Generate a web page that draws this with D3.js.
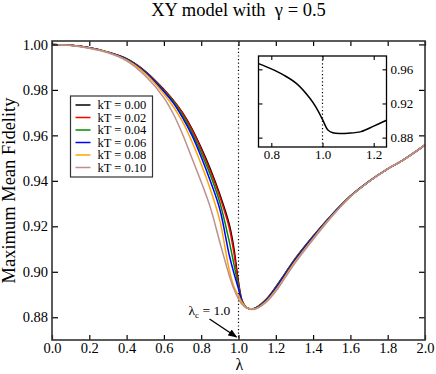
<!DOCTYPE html>
<html lang="en">
<head>
<meta charset="utf-8">
<title>XY model with gamma = 0.5</title>
<script src="https://cdn.jsdelivr.net/npm/d3@7"></script>
<style>
  body { margin: 0; background: #fff; }
</style>
</head>
<body>
<div id="chart"></div>
<script>
// lambda grid shared by all main curves
var lambda = [0, 0.1, 0.2, 0.3, 0.4, 0.5, 0.6, 0.65, 0.7, 0.75, 0.8, 0.85, 0.9, 0.95, 0.975, 1.0,
  1.02, 1.04, 1.07, 1.1, 1.15, 1.2, 1.25, 1.3, 1.4, 1.5, 1.6, 1.7, 1.8, 1.88, 1.95, 2.0];

var kT000 = [1.0000, 0.9996, 0.9985, 0.9966, 0.9937, 0.9882, 0.9802, 0.9755, 0.9700, 0.9630, 0.9545, 0.9450, 0.9340, 0.9210, 0.9105, 0.8955,
  0.8872, 0.8845, 0.8836, 0.8845, 0.8880, 0.8933, 0.8993, 0.9053, 0.9156, 0.9250, 0.9333, 0.9398, 0.9453, 0.9490, 0.9528, 0.9558];
var kT002 = [1.0000, 0.9996, 0.9985, 0.9966, 0.9936, 0.9881, 0.9800, 0.9753, 0.9697, 0.9625, 0.9538, 0.9441, 0.9330, 0.9195, 0.9085, 0.8945,
  0.8870, 0.8844, 0.8836, 0.8845, 0.8879, 0.8932, 0.8992, 0.9052, 0.9156, 0.9250, 0.9333, 0.9398, 0.9453, 0.9490, 0.9528, 0.9558];
var kT004 = [1.0000, 0.9996, 0.9985, 0.9966, 0.9936, 0.9879, 0.9796, 0.9749, 0.9688, 0.9613, 0.9523, 0.9424, 0.9305, 0.9135, 0.9035, 0.8935,
  0.8868, 0.8844, 0.8836, 0.8844, 0.8878, 0.8931, 0.8991, 0.9051, 0.9155, 0.9250, 0.9333, 0.9398, 0.9453, 0.9490, 0.9528, 0.9558];
var kT006 = [1.0000, 0.9996, 0.9985, 0.9965, 0.9935, 0.9877, 0.9792, 0.9743, 0.9678, 0.9601, 0.9505, 0.9397, 0.9275, 0.9075, 0.8995, 0.8925,
  0.8866, 0.8843, 0.8836, 0.8843, 0.8876, 0.8928, 0.8988, 0.9048, 0.9153, 0.9249, 0.9332, 0.9398, 0.9453, 0.9490, 0.9528, 0.9558];
var kT008 = [1.0000, 0.9996, 0.9984, 0.9965, 0.9932, 0.9872, 0.9782, 0.9727, 0.9660, 0.9573, 0.9473, 0.9360, 0.9225, 0.9010, 0.8935, 0.8895,
  0.8864, 0.8845, 0.8837, 0.8841, 0.8871, 0.8920, 0.8980, 0.9041, 0.9147, 0.9245, 0.9331, 0.9397, 0.9453, 0.9490, 0.9528, 0.9558];
var kT010 = [1.0000, 0.9995, 0.9983, 0.9963, 0.9928, 0.9862, 0.9765, 0.9695, 0.9605, 0.9500, 0.9395, 0.9280, 0.9130, 0.8985, 0.8925, 0.8880,
  0.8856, 0.8842, 0.8834, 0.8839, 0.8867, 0.8914, 0.8974, 0.9035, 0.9142, 0.9242, 0.9330, 0.9397, 0.9453, 0.9490, 0.9528, 0.9558];

var seriesLabels = ["kT = 0.00", "kT = 0.02", "kT = 0.04", "kT = 0.06", "kT = 0.08", "kT = 0.10"];
var seriesColors = ["#000000", "#ff0000", "#008c00", "#0000ff", "#ffa500", "#bc8f8f"];

// inset: kT = 0 curve around the critical point
var insetLambda = [0.75, 0.8, 0.85, 0.9, 0.95, 0.975, 1.0, 1.02, 1.04, 1.07, 1.1, 1.15, 1.2, 1.25];
var insetFidelity = [0.9667, 0.9605, 0.9530, 0.9430, 0.9265, 0.9155, 0.9013, 0.8893, 0.8857, 0.8847, 0.8851, 0.8870, 0.8935, 0.9003];

var xTicks = [0, 0.2, 0.4, 0.6, 0.8, 1.0, 1.2, 1.4, 1.6, 1.8, 2.0];
var yTicks = [0.88, 0.90, 0.92, 0.94, 0.96, 0.98, 1.00];
var insetXTicks = [0.8, 1.0, 1.2];
var insetYTicks = [0.88, 0.92, 0.96];
var lambdaC = 1.0;

var serif = '"Liberation Serif", "Times New Roman", "DejaVu Serif", serif';
var width = 436, height = 374;
var plot = {left: 52, right: 425, top: 41, bottom: 340};
var ins = {left: 258.5, right: 386.5, top: 56, bottom: 147};

var svg = d3.select("#chart").append("svg")
  .attr("width", width)
  .attr("height", height)
  .attr("font-family", serif);

var x = d3.scaleLinear().domain([0, 2]).range([plot.left, plot.right]);
var y = d3.scaleLinear().domain([0.87, 1.0015]).range([plot.bottom, plot.top]);

var series = [kT000, kT002, kT004, kT006, kT008, kT010];

var line = d3.line()
  .x(function(d) { return x(d[0]); })
  .y(function(d) { return y(d[1]); })
  .curve(d3.curveCatmullRom.alpha(0.5));

// critical point marker
svg.append("line")
  .attr("x1", x(lambdaC)).attr("x2", x(lambdaC))
  .attr("y1", plot.top).attr("y2", plot.bottom)
  .attr("stroke", "#000").attr("stroke-width", 1.2)
  .attr("stroke-dasharray", "1.2,2.4");

svg.append("g").selectAll("path")
  .data(series)
  .enter().append("path")
    .attr("fill", "none")
    .attr("stroke", function(d, i) { return seriesColors[i]; })
    .attr("stroke-width", 1.5)
    .attr("d", function(d) { return line(d.map(function(v, i) { return [lambda[i], v]; })); });

// axes, ticks pointing inward
var fmtY = d3.format(".2f"), fmtX = d3.format(".1f");

var gx = svg.append("g")
  .attr("transform", "translate(0," + plot.bottom + ")")
  .call(d3.axisBottom(x).tickValues(xTicks).tickSize(-5).tickPadding(3).tickFormat(fmtX));
var gy = svg.append("g")
  .attr("transform", "translate(" + plot.left + ",0)")
  .call(d3.axisLeft(y).tickValues(yTicks).tickSize(-6).tickPadding(4).tickFormat(fmtY));
var gxt = svg.append("g")
  .attr("transform", "translate(0," + plot.top + ")")
  .call(d3.axisTop(x).tickValues(xTicks).tickSize(-5).tickFormat(""));
var gyr = svg.append("g")
  .attr("transform", "translate(" + plot.right + ",0)")
  .call(d3.axisRight(y).tickValues(yTicks).tickSize(-6).tickFormat(""));

[gx, gy, gxt, gyr].forEach(function(g) {
  g.attr("font-family", serif).attr("font-size", 14.5);
  g.select(".domain").remove();
  g.selectAll(".tick line").attr("stroke", "#000").attr("stroke-width", 1.2);
  g.selectAll("text").style("font-family", serif).attr("fill", "#000");
});

svg.append("rect")
  .attr("x", plot.left).attr("y", plot.top)
  .attr("width", plot.right - plot.left).attr("height", plot.bottom - plot.top)
  .attr("fill", "none").attr("stroke", "#333").attr("stroke-width", 1.6);

// titles
svg.append("text")
  .attr("x", (plot.left + plot.right) / 2).attr("y", 16)
  .attr("text-anchor", "middle").attr("font-size", 18.5)
  .style("white-space", "pre")
  .text("XY model with  \u03b3 = 0.5");

svg.append("text")
  .attr("x", (plot.left + plot.right) / 2 + 1).attr("y", 370)
  .attr("text-anchor", "middle").attr("font-size", 16)
  .text("\u03bb");

svg.append("text")
  .attr("transform", "translate(15," + ((plot.top + plot.bottom) / 2) + ") rotate(-90)")
  .attr("text-anchor", "middle").attr("font-size", 18.5)
  .text("Maximum Mean Fidelity");

// legend
var legend = svg.append("g").attr("transform", "translate(70.5,96)");
legend.append("rect")
  .attr("width", 82).attr("height", 81)
  .attr("fill", "#fff").attr("stroke", "#333").attr("stroke-width", 1.2);
var rows = legend.selectAll("g.row")
  .data(seriesLabels)
  .enter().append("g")
    .attr("class", "row")
    .attr("transform", function(d, i) { return "translate(0," + (9 + i * 12.5) + ")"; });
rows.append("line")
  .attr("x1", 5).attr("x2", 20)
  .attr("stroke", function(d, i) { return seriesColors[i]; })
  .attr("stroke-width", 1.5);
rows.append("text")
  .attr("x", 27).attr("dy", "0.35em")
  .attr("font-size", 12.5)
  .text(function(d) { return d; });

// annotation for the critical point
var tip = [x(lambdaC) - 2, plot.bottom - 3];
svg.append("defs").append("marker")
  .attr("id", "arrow")
  .attr("viewBox", "0 0 10 10")
  .attr("refX", 9).attr("refY", 5)
  .attr("markerWidth", 7).attr("markerHeight", 7)
  .attr("orient", "auto")
  .append("path").attr("d", "M0,1 L10,5 L0,9 Z").attr("fill", "#000");
svg.append("line")
  .attr("x1", tip[0] - 27).attr("y1", tip[1] - 18)
  .attr("x2", tip[0]).attr("y2", tip[1])
  .attr("stroke", "#000").attr("stroke-width", 1.3)
  .attr("marker-end", "url(#arrow)");
var ann = svg.append("text")
  .attr("x", tip[0] - 48).attr("y", tip[1] - 22)
  .attr("font-size", 13.5);
ann.append("tspan").text("\u03bb");
ann.append("tspan").attr("font-size", 9).attr("dy", 3).text("c");
ann.append("tspan").attr("dy", -3).text(" = 1.0");

// inset
var xi = d3.scaleLinear().domain([0.75, 1.25]).range([ins.left, ins.right]);
var yi = d3.scaleLinear().domain([0.869, 0.9756]).range([ins.bottom, ins.top]);

svg.append("rect")
  .attr("x", ins.left).attr("y", ins.top)
  .attr("width", ins.right - ins.left).attr("height", ins.bottom - ins.top)
  .attr("fill", "#fff");

svg.append("clipPath").attr("id", "insetClip")
  .append("rect")
  .attr("x", ins.left).attr("y", ins.top)
  .attr("width", ins.right - ins.left).attr("height", ins.bottom - ins.top);

svg.append("line")
  .attr("x1", xi(lambdaC)).attr("x2", xi(lambdaC))
  .attr("y1", ins.top).attr("y2", ins.bottom)
  .attr("stroke", "#000").attr("stroke-width", 1.2)
  .attr("stroke-dasharray", "1.2,2.4");

var lineInset = d3.line()
  .x(function(d) { return xi(d[0]); })
  .y(function(d) { return yi(d[1]); })
  .curve(d3.curveCatmullRom.alpha(0.5));

svg.append("path")
  .datum(insetLambda.map(function(l, i) { return [l, insetFidelity[i]]; }))
  .attr("clip-path", "url(#insetClip)")
  .attr("fill", "none").attr("stroke", "#000").attr("stroke-width", 1.5)
  .attr("d", lineInset);

var ix = svg.append("g")
  .attr("transform", "translate(0," + ins.bottom + ")")
  .call(d3.axisBottom(xi).tickValues(insetXTicks).tickSize(-4).tickPadding(3).tickFormat(fmtX));
var ixt = svg.append("g")
  .attr("transform", "translate(0," + ins.top + ")")
  .call(d3.axisTop(xi).tickValues(insetXTicks).tickSize(-4).tickFormat(""));
var iy = svg.append("g")
  .attr("transform", "translate(" + ins.left + ",0)")
  .call(d3.axisLeft(yi).tickValues(insetYTicks).tickSize(-4).tickFormat(""));
var iyr = svg.append("g")
  .attr("transform", "translate(" + ins.right + ",0)")
  .call(d3.axisRight(yi).tickValues(insetYTicks).tickSize(-4).tickPadding(4).tickFormat(fmtY));

[ix, ixt, iy, iyr].forEach(function(g) {
  g.attr("font-family", serif).attr("font-size", 13);
  g.select(".domain").remove();
  g.selectAll(".tick line").attr("stroke", "#000").attr("stroke-width", 1.1);
  g.selectAll("text").style("font-family", serif).attr("fill", "#000");
});

svg.append("rect")
  .attr("x", ins.left).attr("y", ins.top)
  .attr("width", ins.right - ins.left).attr("height", ins.bottom - ins.top)
  .attr("fill", "none").attr("stroke", "#000").attr("stroke-width", 1.3);
</script>
</body>
</html>
